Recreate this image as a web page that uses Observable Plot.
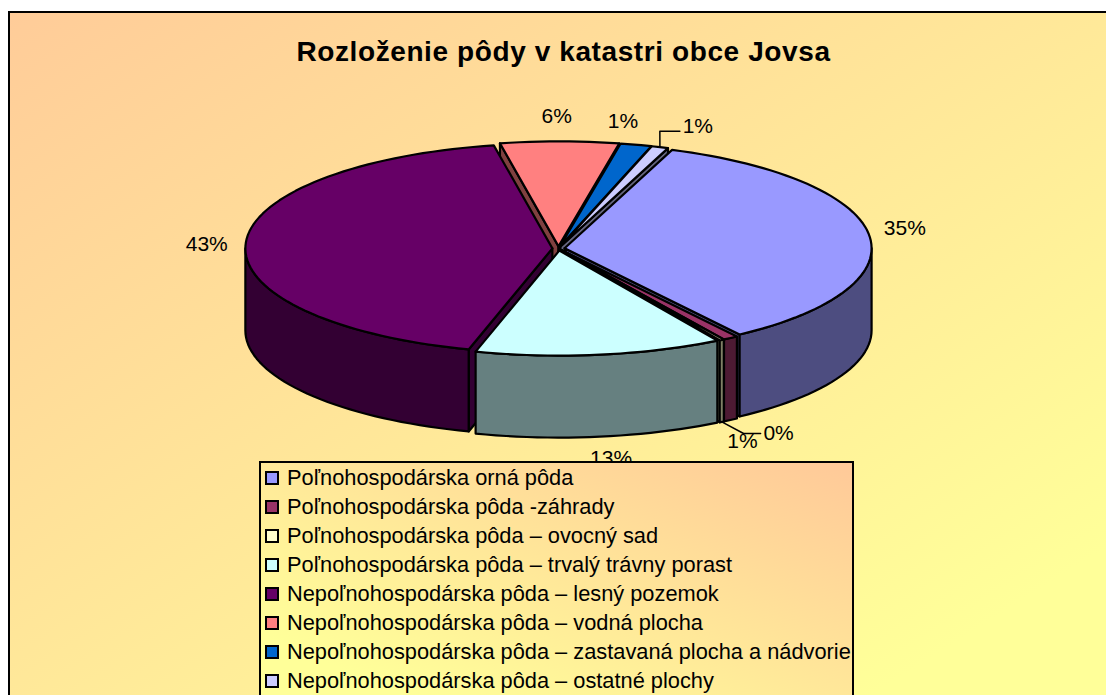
<!DOCTYPE html>
<html lang="sk">
<head>
<meta charset="utf-8">
<script src="https://cdn.jsdelivr.net/npm/d3@7"></script>
<script src="https://cdn.jsdelivr.net/npm/@observablehq/plot@0.6"></script>
<style>
html,body{margin:0;padding:0;width:1106px;height:695px;overflow:hidden;background:#fff;}
#frame{position:absolute;left:8px;top:11px;width:1110px;height:700px;box-sizing:border-box;border:2px solid #000;
  background:linear-gradient(to bottom right,#ffcc99 0%,#ffff99 88%);}
#chart{position:absolute;left:0;top:0;}
#title{position:absolute;left:0;width:1127px;top:36px;text-align:center;font:bold 28px "Liberation Sans",Arial,sans-serif;letter-spacing:.6px;color:#000;white-space:nowrap;}
#legend{position:absolute;left:259px;top:461px;width:595px;height:250px;box-sizing:border-box;border:2px solid #000;
  background:linear-gradient(to bottom left,#ffc999 0%,#ffff99 85%);}
.row{height:29.05px;display:flex;align-items:center;font:21.8px "Liberation Sans",Arial,sans-serif;color:#000;white-space:nowrap;}
.swatch{width:10px;height:10px;border:2px solid #000;margin:0 8px 0 4px;flex:none;}
</style>
</head>
<body>
<div id="frame"></div>
<div id="chart"></div>
<div id="title"></div>
<div id="legend"></div>
<script>
const chartTitle = "Rozloženie pôdy v katastri obce Jovsa";
const categories = [
  "Poľnohospodárska orná pôda",
  "Poľnohospodárska pôda -záhrady",
  "Poľnohospodárska pôda – ovocný sad",
  "Poľnohospodárska pôda – trvalý trávny porast",
  "Nepoľnohospodárska pôda – lesný pozemok",
  "Nepoľnohospodárska pôda – vodná plocha",
  "Nepoľnohospodárska pôda – zastavaná plocha a nádvorie",
  "Nepoľnohospodárska pôda – ostatné plochy"
];
const shares = [34.65, 0.8, 0.25, 13.0, 42.55, 6.22, 1.64, 0.89];
const labels = ["35%", "1%", "0%", "13%", "43%", "6%", "1%", "1%"];
const topColors = ["#9999ff", "#993366", "#ffffcc", "#ccffff", "#660066", "#ff8080", "#0066cc", "#ccccff"];
const wallColors = ["#4d4d80", "#4d1a33", "#808066", "#668080", "#330033", "#804040", "#003366", "#666680"];

// layout of the tilted pie
const W = 1106, H = 695, cx = 558, cy = 248, rx = 307, ry = 105;
const depth = 82 / ry, explode = 0.02, startAngle = 20.5, labelRadius = 1.15;
const labelNudgeX = [-4, -10, 36, 6, 1, -3, -23, 25];
const labelNudgeY = [-5, 10, 0, 8, 1, -11, -10, -8];
const rad = a => a * Math.PI / 180;
const px = a => Math.sin(rad(a));
const py = a => -Math.cos(rad(a));

let acc = startAngle;
const slices = shares.map((v, i) => {
  const a0 = acc, a1 = acc + v * 3.6;
  acc = a1;
  const mid = (a0 + a1) / 2;
  return {i, a0, a1, mid, ox: explode * px(mid), oy: explode * py(mid)};
});

function arc(s, from, to) {
  const n = Math.max(1, Math.ceil((to - from) / 2));
  return d3.range(n + 1).map(k => {
    const a = from + (to - from) * k / n;
    return [s.ox + px(a), s.oy + py(a)];
  });
}
const pieces = [];
function addPiece(id, pts, fill) {
  [...pts, pts[0]].forEach(p => pieces.push({id, x: p[0], y: p[1], fill}));
}
[...slices].sort((a, b) => py(a.mid) - py(b.mid)).forEach(s => {
  const wall = wallColors[s.i];
  const apex = [s.ox, s.oy];
  const drop = p => [p[0], p[1] + depth];
  // radial cut faces that look toward the viewer
  if (Math.sin(rad(s.a0)) < 0) {
    const e = [s.ox + px(s.a0), s.oy + py(s.a0)];
    addPiece(`r0${s.i}`, [apex, e, drop(e), drop(apex)], wall);
  }
  if (Math.sin(rad(s.a1)) > 0) {
    const e = [s.ox + px(s.a1), s.oy + py(s.a1)];
    addPiece(`r1${s.i}`, [apex, e, drop(e), drop(apex)], wall);
  }
  // outer rim, front half only
  const from = Math.max(s.a0, 90), to = Math.min(s.a1, 270);
  if (to > from) {
    const edge = arc(s, from, to);
    addPiece(`w${s.i}`, [...edge, ...edge.map(drop).reverse()], wall);
  }
  addPiece(`t${s.i}`, [apex, ...arc(s, s.a0, s.a1)], topColors[s.i]);
});

const labelData = slices.map(s => {
  const front = py(s.mid) > 0.3 ? depth : 0;
  return {
    text: labels[s.i],
    x: labelRadius * px(s.mid) + labelNudgeX[s.i] / rx,
    y: labelRadius * py(s.mid) + front + labelNudgeY[s.i] / ry
  };
});

// leader lines for the two crowded labels
const leaders = [];
function leader(i, bottom, knee, tail, rise) {
  const s = slices[i], l = labelData[i];
  const pts = [
    [s.ox + px(s.mid), s.oy + py(s.mid) + (bottom ? depth : 0)],
    [l.x - knee / rx, l.y + rise / ry],
    [l.x - tail / rx, l.y + rise / ry]
  ];
  pts.forEach(p => leaders.push({id: i, x: p[0], y: p[1]}));
}
leader(2, true, 35, 18, 0);
leader(7, false, 38, 18, 5);

const plot = Plot.plot({
  width: W, height: H,
  margin: 0,
  x: {domain: [-cx / rx, (W - cx) / rx], range: [0, W], axis: null},
  y: {domain: [-cy / ry, (H - cy) / ry], range: [0, H], axis: null},
  style: {background: "transparent", fontFamily: "'Liberation Sans',Arial,sans-serif"},
  marks: [
    Plot.line(pieces, {x: "x", y: "y", z: "id", fill: "fill", stroke: "#000", strokeWidth: 2.2, strokeLinejoin: "round"}),
    Plot.line(leaders, {x: "x", y: "y", z: "id", stroke: "#000", strokeWidth: 1.5}),
    Plot.text(labelData, {x: "x", y: "y", text: "text", fontSize: 21, fill: "#000"})
  ]
});
document.getElementById("chart").appendChild(plot);

document.getElementById("title").textContent = chartTitle;
const legend = d3.select("#legend");
categories.forEach((c, i) => {
  const row = legend.append("div").attr("class", "row");
  row.append("span").attr("class", "swatch").style("background", topColors[i]);
  row.append("span").text(c);
});
</script>
</body>
</html>
